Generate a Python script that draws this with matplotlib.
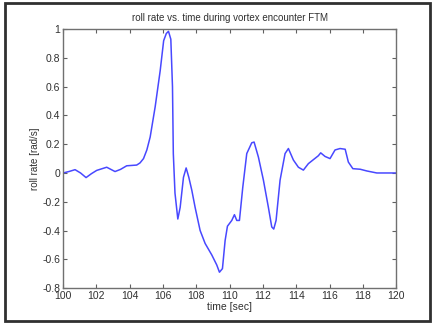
import numpy as np
import matplotlib
import matplotlib.pyplot as plt
from matplotlib.patches import Rectangle

matplotlib.use("Agg")

# roll rate trace
time_sec = [100.0, 100.35, 100.72, 101.05, 101.38, 101.7, 102.02, 102.62, 103.12,
            103.45, 103.82, 104.42, 104.62, 104.83, 105.03, 105.23, 105.53, 105.83,
            106.04, 106.2, 106.33, 106.47, 106.57, 106.62, 106.72, 106.89, 107.03,
            107.23, 107.39, 107.55, 107.73, 107.93, 108.23, 108.53, 108.93, 109.23,
            109.39, 109.57, 109.73, 109.87, 110.13, 110.29, 110.43, 110.59, 110.79,
            111.03, 111.33, 111.47, 111.73, 112.03, 112.33, 112.53, 112.65, 112.79,
            113.03, 113.33, 113.53, 113.83, 114.13, 114.43, 114.73, 115.33, 115.47,
            115.73, 116.03, 116.33, 116.63, 116.94, 117.13, 117.4, 117.84, 118.24,
            118.84, 119.4, 120.0]
roll_rate = [0.0, 0.01, 0.023, 0.0, -0.032, -0.005, 0.018, 0.04, 0.01,
             0.025, 0.05, 0.055, 0.07, 0.10, 0.16, 0.25, 0.46, 0.71,
             0.92, 0.97, 0.985, 0.93, 0.60, 0.135, -0.14, -0.32, -0.24,
             -0.03, 0.035, -0.03, -0.12, -0.24, -0.40, -0.49, -0.57, -0.64,
             -0.69, -0.665, -0.47, -0.37, -0.33, -0.29, -0.33, -0.33, -0.10,
             0.135, 0.21, 0.215, 0.11, -0.05, -0.24, -0.375, -0.39, -0.33,
             -0.05, 0.135, 0.17, 0.09, 0.04, 0.02, 0.065, 0.12, 0.14,
             0.115, 0.10, 0.16, 0.17, 0.165, 0.076, 0.03, 0.026, 0.014,
             0.0, 0.0, 0.0]

x_ticks = [100, 102, 104, 106, 108, 110, 112, 114, 116, 118, 120]
y_ticks = [-0.8, -0.6, -0.4, -0.2, 0, 0.2, 0.4, 0.6, 0.8, 1]
y_labels = ["-0.8", "-0.6", "-0.4", "-0.2", "0", "0.2", "0.4", "0.6", "0.8", "1"]

plt.rcParams["font.family"] = ["Liberation Sans", "DejaVu Sans"]

fig = plt.figure(figsize=(4.32, 3.24), dpi=100)
ax = fig.add_axes([0.146, 0.111, 0.771, 0.799])

ax.plot(time_sec, roll_rate, color="#4848ff", linewidth=1.1,
        solid_joinstyle="round")

ax.set_xlim(100, 120)
ax.set_ylim(-0.8, 1)
ax.set_xticks(x_ticks)
ax.set_yticks(y_ticks)
ax.set_yticklabels(y_labels)
ax.tick_params(direction="in", top=True, right=True, length=3, width=0.8,
               labelsize=7.5, colors="#606060", labelcolor="#303030", pad=2)
for s in ax.spines.values():
    s.set_color("#707070")
    s.set_linewidth(1.0)

ax.set_title("roll rate vs. time during vortex encounter FTM", fontsize=7,
             color="#303030", pad=6)
ax.set_xlabel("time [sec]", fontsize=7.5, color="#303030", labelpad=1)
ax.set_ylabel("roll rate [rad/s]", fontsize=7, color="#303030", labelpad=2)

# dark frame around the whole picture
fig.patches.append(Rectangle((0.012, 0.008), 0.984, 0.984, transform=fig.transFigure,
                             fill=False, edgecolor="#303030", linewidth=2.0))

fig.savefig("out.png", dpi=100)
plt.close(fig)
